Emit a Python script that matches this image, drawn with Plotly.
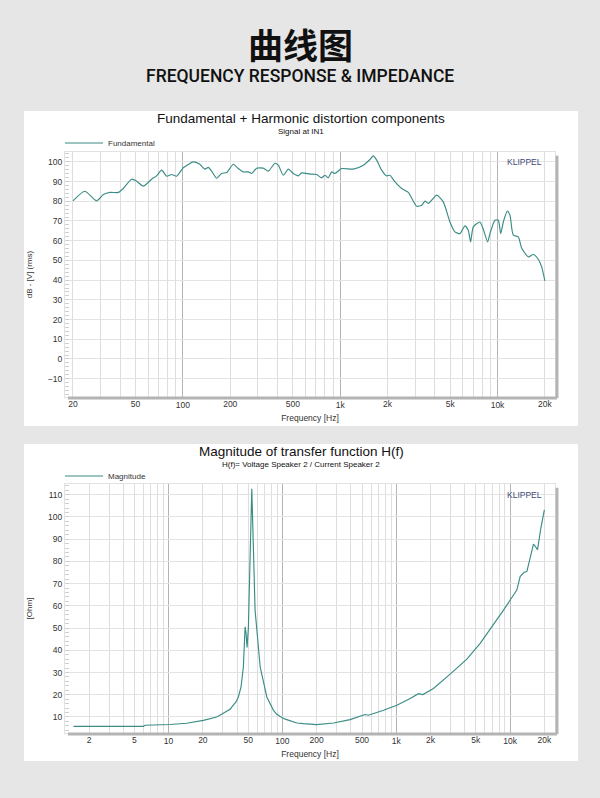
import math
import plotly.graph_objects as go

# ---------------- data ----------------
fund_freq = [20, 23.8, 28.3, 31.2, 34.4, 38.8, 41.8, 47.2, 50.8, 56, 63.3, 68, 73.3, 78.8, 84.8, 91.2,
             100.5, 108, 116, 128, 138, 145, 152, 164, 176, 190, 209, 225, 242, 260, 274, 294, 324, 349,
             385, 404, 435, 468, 503, 541, 569, 642, 708, 762, 800, 840, 883, 926, 1021, 1211, 1403,
             1546, 1623, 1706, 1833, 1973, 2070, 2230, 2458, 2710, 3063, 3297, 3459, 3633, 4106, 4521,
             4986, 5362, 5770, 6209, 6518, 6746, 7015, 7727, 8120, 8656, 8950, 9631, 10120, 10480,
             10890, 11540, 12000, 12600, 13560, 14230, 15700, 16870, 18160, 19090, 20000]
fund_db = [80.2, 85.1, 80.2, 83.4, 84.5, 84.5, 86.5, 91.2, 90.2, 87.7, 91.2, 92.9, 95.8, 92.7, 93.6, 92.7,
           97.0, 98.6, 100.0, 98.8, 96.3, 97.2, 95.4, 91.7, 94.1, 94.6, 98.8, 96.6, 94.9, 94.9, 94.1, 96.8,
           96.8, 95.3, 99.3, 98.3, 93.2, 96.3, 94.1, 92.9, 94.4, 93.8, 93.6, 91.9, 93.2, 91.9, 94.9, 94.1,
           96.6, 96.3, 98.3, 101.2, 103.0, 100.9, 95.8, 92.9, 93.2, 89.8, 86.5, 84.5, 77.5, 78.0, 80.1,
           78.9, 83.1, 79.7, 69.5, 64.5, 63.6, 67.5, 65.3, 59.4, 67.0, 69.5, 65.8, 59.4, 63.6, 70.4, 70.4,
           63.6, 69.5, 75.0, 72.9, 62.8, 61.9, 56.3, 51.8, 53.0, 50.6, 46.7, 39.6]

imp_freq = [1.46, 6.0, 6.2, 10.3, 14.4, 20.2, 26.5, 28.3, 32.4, 34.7, 37, 39.1, 41, 43.3, 45.4, 47, 47.9,
            48.9, 50.2, 53.8, 57.5, 60.3, 63.7, 72.9, 83.4, 89.2, 102, 109, 134, 153, 187, 200, 281, 393,
            532, 570, 773, 1012, 1325, 1567, 1711, 2122, 2974, 4169, 5459, 7148, 8750, 10020, 11460,
            12250, 13280, 14030, 15000, 16040, 16700, 17400, 18630, 19630, 20000]
imp_ohm = [5.8, 5.8, 6.3, 6.6, 7.2, 8.5, 10.0, 10.8, 12.3, 13.5, 15.3, 16.8, 19.0, 23.5, 32.6, 50.6, 47.7,
           41.3, 49.9, 112.7, 58.1, 44.6, 32.6, 19.0, 13.0, 11.2, 9.3, 8.8, 7.3, 7.0, 6.6, 6.6, 7.3, 8.8,
           11.1, 10.8, 13.0, 15.3, 18.3, 20.5, 20.1, 22.8, 29.3, 36.0, 43.1, 51.4, 58.1, 62.6, 67.1,
           73.2, 75.1, 75.4, 81.4, 87.8, 86.7, 85.2, 95.0, 102.5, 103.2]

# tick / grid positions
top_decades = [100, 1000, 10000]
top_decade_text = ["100", "1k", "10k"]
top_minor = [20, 30, 40, 50, 60, 70, 80, 90, 200, 300, 400, 500, 600, 700, 800, 900,
             2000, 3000, 4000, 5000, 6000, 7000, 8000, 9000, 20000]
top_other_vals = [20, 50, 200, 500, 2000, 5000, 20000]
top_other_text = ["20", "50", "200", "500", "2k", "5k", "20k"]

bot_decades = [10, 100, 1000, 10000]
bot_decade_text = ["10", "100", "1k", "10k"]
bot_minor = [2, 3, 4, 5, 6, 7, 8, 9, 20, 30, 40, 50, 60, 70, 80, 90, 200, 300, 400, 500, 600, 700,
             800, 900, 2000, 3000, 4000, 5000, 6000, 7000, 8000, 9000, 20000]
bot_other_vals = [2, 5, 20, 50, 200, 500, 2000, 5000, 20000]
bot_other_text = ["2", "5", "20", "50", "200", "500", "2k", "5k", "20k"]

top_y_ticks = [-10, 0, 10, 20, 30, 40, 50, 60, 70, 80, 90, 100]
bot_y_ticks = [10, 20, 30, 40, 50, 60, 70, 80, 90, 100, 110]

# ---------------- styling ----------------
W, H = 600, 798
LINE = "#3a8c86"
FONT = "Liberation Sans, Arial, sans-serif"
TICKC = "#333333"
GRID_MINOR = "#dedede"
GRID_MAJOR = "#b3b3b3"

def px_x(p):
    return p / W

def px_y(p):
    return 1 - p / H

# plot area pixels
PL, PR = 65, 555
T_TOP, T_BOT = 152, 397
B_TOP, B_BOT = 484, 733

top_xrange = [math.log10(17.8), math.log10(23200)]
bot_xrange = [math.log10(1.23), math.log10(24800)]

fig = go.Figure()
fig.add_trace(go.Scatter(x=fund_freq, y=fund_db, mode="lines", name="Fundamental",
                         line=dict(color=LINE, width=1.15, shape="spline", smoothing=0.6),
                         xaxis="x", yaxis="y", legend="legend"))
fig.add_trace(go.Scatter(x=imp_freq, y=imp_ohm, mode="lines", name="Magnitude",
                         line=dict(color=LINE, width=1.15),
                         xaxis="x2", yaxis="y2", legend="legend2"))
# empty traces to carry the overlay label axes
fig.add_trace(go.Scatter(x=[], y=[], xaxis="x3", yaxis="y", showlegend=False, hoverinfo="skip"))
fig.add_trace(go.Scatter(x=[], y=[], xaxis="x4", yaxis="y2", showlegend=False, hoverinfo="skip"))

tickfont = dict(family=FONT, size=8.5, color=TICKC)

def main_x(domain_range, decades, decade_text, minor_vals, anchor):
    return dict(type="log", range=domain_range, autorange=False,
                domain=[px_x(PL), px_x(PR)], anchor=anchor,
                tickmode="array", tickvals=decades, ticktext=decade_text,
                showgrid=True, gridcolor=GRID_MAJOR, gridwidth=1,
                minor=dict(tickmode="array", tickvals=minor_vals, showgrid=True,
                           gridcolor=GRID_MINOR, gridwidth=1, ticks=""),
                ticks="", tickfont=tickfont, showline=True, linecolor="#e2e2e2",
                mirror=True, zeroline=False,
                title=dict(text="Frequency [Hz]", font=dict(family=FONT, size=8.5, color=TICKC),
                           standoff=5))

def label_x(domain_range, vals, text, overlay, anchor):
    return dict(type="log", range=domain_range, autorange=False, overlaying=overlay,
                anchor=anchor, side="bottom", tickmode="array", tickvals=vals, ticktext=text,
                showgrid=False, showline=False, ticks="", tickfont=tickfont, zeroline=False)

def main_y(rng, ticks, dom, title, anchor):
    return dict(range=rng, autorange=False, domain=dom, anchor=anchor,
                tickmode="array", tickvals=ticks, showgrid=True, gridcolor="#e3e3e3",
                ticks="", tickfont=tickfont, showline=True, linecolor="#e2e2e2", mirror=True,
                zeroline=False,
                minor=dict(dtick=2, ticks="inside", ticklen=4, tickcolor="#cfcfcf", showgrid=False),
                title=dict(text=title, font=dict(family=FONT, size=8, color=TICKC), standoff=14))

fig.update_layout(
    width=W, height=H,
    margin=dict(l=0, r=0, t=0, b=0),
    paper_bgcolor="#e6e6e6",
    plot_bgcolor="white",
    xaxis=main_x(top_xrange, top_decades, top_decade_text, top_minor, "y"),
    xaxis2=main_x(bot_xrange, bot_decades, bot_decade_text, bot_minor, "y2"),
    xaxis3=label_x(top_xrange, top_other_vals, top_other_text, "x", "y"),
    xaxis4=label_x(bot_xrange, bot_other_vals, bot_other_text, "x2", "y2"),
    yaxis=main_y([-19.3, 105], top_y_ticks, [px_y(T_BOT), px_y(T_TOP)], "dB - [V] (rms)", "x"),
    yaxis2=main_y([2.8, 114.8], bot_y_ticks, [px_y(B_BOT), px_y(B_TOP)], "[Ohm]", "x2"),
    showlegend=True,
    legend=dict(x=px_x(60), y=px_y(143), xanchor="left", yanchor="middle",
                bgcolor="rgba(0,0,0,0)", font=dict(family=FONT, size=8, color=TICKC),
                itemwidth=38, tracegroupgap=0),
    legend2=dict(x=px_x(60), y=px_y(476), xanchor="left", yanchor="middle",
                 bgcolor="rgba(0,0,0,0)", font=dict(family=FONT, size=8, color=TICKC),
                 itemwidth=38, tracegroupgap=0),
)

shapes = []
# white panels
for top, bot in [(111, 426), (444, 761)]:
    shapes.append(dict(type="rect", xref="paper", yref="paper", x0=px_x(24), x1=px_x(578),
                       y0=px_y(bot), y1=px_y(top), fillcolor="white", line=dict(width=0),
                       layer="below"))
# shadow lines at bottom and right of each plot
for xr, yr in [("x domain", "y domain"), ("x2 domain", "y2 domain")]:
    shapes.append(dict(type="line", xref=xr, yref=yr, x0=0.006, x1=1.004, y0=-0.004, y1=-0.004,
                       line=dict(color="#b4b4b4", width=3), layer="above"))
    shapes.append(dict(type="line", xref=xr, yref=yr, x0=1.004, x1=1.004, y0=-0.004, y1=0.985,
                       line=dict(color="#b4b4b4", width=3), layer="above"))
fig.update_layout(shapes=shapes)

ann = []
ann.append(dict(text="<b>曲线图</b>", x=0.5, y=px_y(43), xref="paper", yref="paper",
                showarrow=False, xanchor="center", yanchor="middle",
                font=dict(family="Noto Sans CJK SC", size=35, color="#111111")))
ann.append(dict(text="FREQUENCY RESPONSE &amp; IMPEDANCE", x=0.5, y=px_y(76), xref="paper", yref="paper",
                showarrow=False, xanchor="center", yanchor="middle",
                font=dict(family="Roboto", size=17.5, color="#111111", weight=500)))
# chart titles
ann.append(dict(text="Fundamental + Harmonic distortion components", x=px_x(301), y=px_y(118),
                xref="paper", yref="paper", showarrow=False, xanchor="center", yanchor="middle",
                font=dict(family=FONT, size=13.5, color="#111111")))
ann.append(dict(text="Signal at IN1", x=px_x(301), y=px_y(131), xref="paper", yref="paper",
                showarrow=False, xanchor="center", yanchor="middle",
                font=dict(family=FONT, size=8, color="#111111")))
ann.append(dict(text="Magnitude of transfer function H(f)", x=px_x(301), y=px_y(451),
                xref="paper", yref="paper", showarrow=False, xanchor="center", yanchor="middle",
                font=dict(family=FONT, size=13.5, color="#111111")))
ann.append(dict(text="H(f)= Voltage Speaker 2 / Current Speaker 2", x=px_x(301), y=px_y(464),
                xref="paper", yref="paper", showarrow=False, xanchor="center", yanchor="middle",
                font=dict(family=FONT, size=8, color="#111111")))
for xr, yr, yy in [("x domain", "y domain", 0.958), ("x2 domain", "y2 domain", 0.957)]:
    ann.append(dict(text="KLIPPEL", x=0.978, y=yy, xref=xr, yref=yr, showarrow=False,
                    xanchor="right", yanchor="middle",
                    font=dict(family=FONT, size=8.5, color="#3f4a7a")))
fig.update_layout(annotations=ann)

fig.write_html("out.html", config={"displayModeBar": False},
               post_script="document.body.style.margin='0px';document.body.style.overflow='hidden';")
